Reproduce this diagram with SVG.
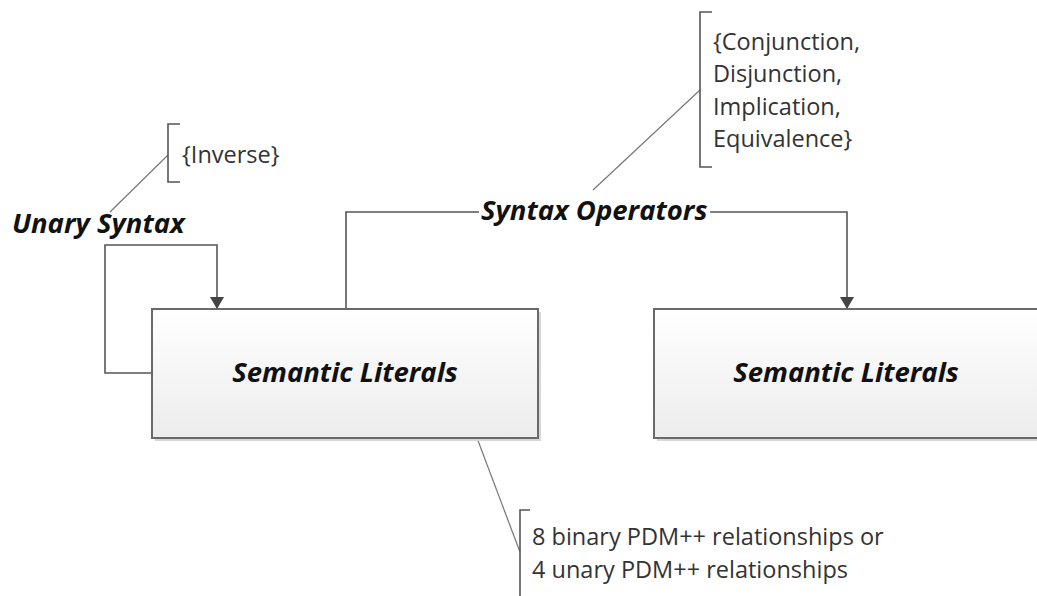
<svg xmlns="http://www.w3.org/2000/svg" width="1037" height="596" viewBox="0 0 1037 596">
  <defs>
    <linearGradient id="boxFill" x1="0" y1="0" x2="0" y2="1">
      <stop offset="0" stop-color="#ffffff"/>
      <stop offset="1" stop-color="#ececec"/>
    </linearGradient>
    <marker id="arrow" viewBox="0 0 12 14" refX="12" refY="7" markerWidth="12" markerHeight="14" markerUnits="userSpaceOnUse" orient="auto">
      <path d="M0,0 L12,7 L0,14 Z" fill="#444"/>
    </marker>
  </defs>
  <style>
    .box { fill: url(#boxFill); stroke: #6a6a6a; stroke-width: 2; }
    .shadow { fill: #d8d8d8; }
    .title { font-family: "Open Sans", Lato, sans-serif; font-weight: bold; font-style: italic; fill: #111; }
    .note { font-family: "Open Sans", Lato, sans-serif; font-size: 23.5px; fill: #333; }
    .wire { fill: none; stroke: #555; stroke-width: 1.6; }
    .leader { fill: none; stroke: #777; stroke-width: 1.2; }
    .bracket { fill: none; stroke: #555; stroke-width: 1.6; }
  </style>

  <rect width="1037" height="596" fill="#ffffff"/>

  <!-- connectors -->
  <g id="connectors">
    <!-- unary loop back onto the left literals box -->
    <path class="wire" d="M152,373 H105 V245 H217 V309" marker-end="url(#arrow)"/>
    <!-- binary operator link between the two literals boxes -->
    <path class="wire" d="M346,309 V212 H479"/>
    <path class="wire" d="M710,212 H847 V309" marker-end="url(#arrow)"/>
    <!-- annotation leaders -->
    <path class="leader" d="M168,155 L110,212"/>
    <path class="leader" d="M700,90 L593,190"/>
    <path class="leader" d="M477,438 L520,552"/>
  </g>

  <!-- left literals box -->
  <g id="literals-left">
    <rect class="shadow" x="155" y="312" width="386" height="129"/>
    <rect class="box" x="152" y="309" width="386" height="129"/>
    <text class="title" x="345" y="382" font-size="27.5" text-anchor="middle">Semantic Literals</text>
  </g>

  <!-- right literals box (runs past the edge) -->
  <g id="literals-right">
    <rect class="shadow" x="657" y="312" width="400" height="129"/>
    <rect class="box" x="654" y="309" width="400" height="129"/>
    <text class="title" x="846" y="382" font-size="27.5" text-anchor="middle">Semantic Literals</text>
  </g>

  <!-- edge labels -->
  <g id="label-unary">
    <text class="title" x="12" y="233" font-size="27.5">Unary Syntax</text>
  </g>
  <g id="label-operators">
    <text class="title" x="481" y="220" font-size="27.5">Syntax Operators</text>
  </g>

  <!-- annotations -->
  <g id="note-inverse">
    <path class="bracket" d="M180,124 H168 V182 H180"/>
    <text class="note" x="182" y="163">{Inverse}</text>
  </g>
  <g id="note-operators">
    <path class="bracket" d="M712,12 H700 V167 H712"/>
    <text class="note" x="713" y="50">{Conjunction,</text>
    <text class="note" x="713" y="82">Disjunction,</text>
    <text class="note" x="713" y="115">Implication,</text>
    <text class="note" x="713" y="147">Equivalence}</text>
  </g>
  <g id="note-relationships">
    <path class="bracket" d="M530,510 H520 V600"/>
    <text class="note" x="532" y="545">8 binary PDM++ relationships or</text>
    <text class="note" x="532" y="578">4 unary PDM++ relationships</text>
  </g>
</svg>
